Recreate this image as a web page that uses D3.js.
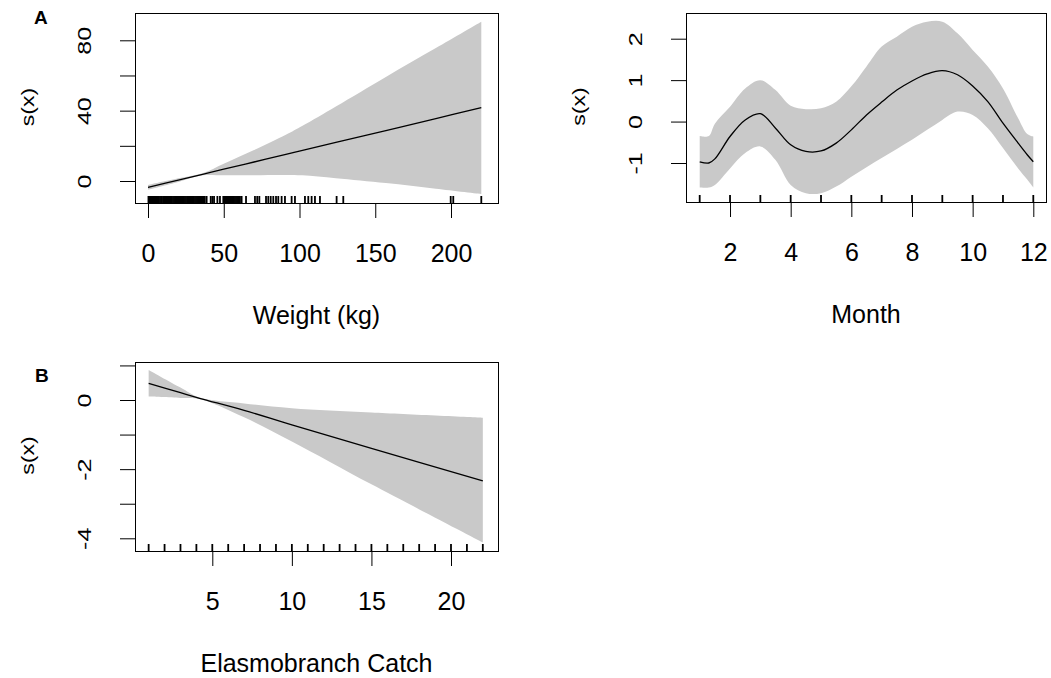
<!DOCTYPE html>
<html>
<head>
<meta charset="utf-8">
<script src="https://cdnjs.cloudflare.com/ajax/libs/d3/7.8.5/d3.min.js"></script>
<style>
  body { margin: 0; background: #fff; }
  svg { display: block; }
  text { font-family: "Liberation Sans", Arial, sans-serif; fill: #000; }
</style>
</head>
<body>
<svg id="gam_svg" width="1051" height="678"></svg>
<script>

// Weight (kg) smooth
var weightX     = [0, 20, 36, 50, 70, 91, 102, 124, 157, 190, 220];
var weightFit   = [-3.6, 0.5, 3.8, 6.7, 10.8, 15.1, 17.4, 21.9, 28.7, 35.5, 41.7];
var weightUpper = [-2.3, 1.5, 4.4, 9.8, 17.6, 26.3, 31.4, 42.4, 59.2, 75.6, 90.6];
var weightLower = [-4.9, -0.5, 3.2, 3.2, 3.3, 3.4, 3.2, 1.6, -1.2, -4.4, -7.4];
var weightRug = [0.3, 1, 1.6, 2.2, 3, 3.7, 4.4, 5, 5.8, 6.5, 7.1, 7.9, 8.6, 9.2, 10, 10.7,
  11.5, 12.2, 12.8, 13.6, 14.3, 15, 15.7, 16.5, 17.2, 17.9, 18.6, 19.3, 20, 20.8, 21.5,
  22.2, 23, 23.7, 24.4, 25.1, 25.9, 26.6, 27.3, 28, 28.8, 29.5, 30.2, 31, 31.7, 32.4,
  33.2, 33.9, 34.6, 35.3, 36, 36.8, 37.5, 38.7, 41.4, 42.5, 43.6, 45.8, 47.5,
  49.7, 50.4, 51.1, 51.8, 52.5, 53.2, 53.9, 54.6, 55.3, 56, 56.7, 57.4, 58.1, 58.8,
  59.5, 60.2, 60.7, 61.8, 64.7, 70.6, 72.1, 73.5, 77.9, 79.4, 81, 82.7, 84.5, 86,
  88.2, 90.4, 94.8, 97, 103.6, 105.8, 108, 110.2, 113.5, 124.5, 128.9, 199.8, 201.5, 220];
var weightXTicks = [0, 50, 100, 150, 200];
var weightYTicks = [0, 20, 40, 60, 80];
var weightYLabels = [0, 40, 80];

// Month smooth
var monthX     = [1, 1.3, 1.5, 2, 2.5, 3, 3.5, 4, 4.5, 5, 5.5, 6, 6.5, 7, 7.5, 8, 8.5, 9, 9.5, 10, 10.5, 11, 11.5, 11.8, 12];
var monthFit   = [-0.97, -1.0, -0.9, -0.36, 0.04, 0.19, -0.16, -0.56, -0.72, -0.71, -0.52, -0.2, 0.16, 0.47, 0.76, 0.98, 1.15, 1.23, 1.13, 0.86, 0.48, -0.04, -0.52, -0.8, -0.97];
var monthUpper = [-0.35, -0.35, -0.05, 0.36, 0.8, 1.0, 0.76, 0.38, 0.3, 0.32, 0.48, 0.85, 1.33, 1.81, 2.05, 2.29, 2.41, 2.41, 2.13, 1.73, 1.33, 0.8, 0.08, -0.3, -0.36];
var monthLower = [-1.59, -1.59, -1.53, -1.13, -0.76, -0.6, -0.93, -1.53, -1.73, -1.73, -1.57, -1.33, -1.1, -0.88, -0.66, -0.44, -0.2, 0.04, 0.24, 0.16, -0.16, -0.64, -1.13, -1.4, -1.59];
var monthRug = [1, 2, 3, 4, 5, 6, 7, 8, 9, 10, 11, 12];
var monthXTicks = [2, 4, 6, 8, 10, 12];
var monthYTicks = [-1, 0, 1, 2];

// Elasmobranch catch smooth
var elasX     = [1, 3, 4.2, 7, 10, 15, 22];
var elasFit   = [0.48, 0.21, 0.05, -0.3, -0.72, -1.4, -2.34];
var elasUpper = [0.87, 0.36, 0.07, -0.1, -0.24, -0.36, -0.51];
var elasLower = [0.1, 0.06, 0.03, -0.5, -1.2, -2.44, -4.12];
var elasRug = [1, 2, 3, 4, 5, 6, 7, 8, 9, 10, 11, 12, 13, 14, 15, 16, 17, 18, 19, 20, 21, 22];
var elasXTicks = [5, 10, 15, 20];
var elasYTicks = [1, 0, -1, -2, -3, -4];
var elasYLabels = [0, -2, -4];


var svg = d3.select("#gam_svg");
var FONT = 25;

function drawPanel(p){

  var g = svg.append("g");
  var x = p.x, y = p.y;

  var pts = p.xs.map(function(d, i){
    return { x: d, fit: p.fit[i], hi: p.upper[i], lo: p.lower[i] };
  });

  var band = d3.area()
    .x(function(d){ return x(d.x) })
    .y0(function(d){ return y(d.lo) })
    .y1(function(d){ return y(d.hi) })
    .curve(d3.curveCatmullRom);

  g.append("path").datum(pts)
    .attr("d", band)
    .style("fill", "#c9c9c9")
    .style("stroke", "none");

  var line = d3.line()
    .x(function(d){ return x(d.x) })
    .y(function(d){ return y(d.fit) })
    .curve(d3.curveCatmullRom);

  g.append("path").datum(pts)
    .attr("d", line)
    .style("fill", "none")
    .style("stroke", "#000")
    .style("stroke-width", 1.3);

  // rug
  g.append("g").selectAll("line").data(p.rug).enter().append("line")
    .attr("x1", function(d){ return x(d) })
    .attr("x2", function(d){ return x(d) })
    .attr("y1", p.box.bottom)
    .attr("y2", p.box.bottom - 7)
    .style("stroke", "#000")
    .style("stroke-width", 1.8);

  // x axis
  var xAxis = d3.axisBottom(x).tickValues(p.xTicks).tickSize(15).tickPadding(26)
    .tickFormat(function(d){ return String(d) });
  var gx = g.append("g")
    .attr("transform", "translate(0," + p.box.bottom + ")")
    .call(xAxis);
  gx.select(".domain").remove();
  gx.selectAll("line").style("stroke", "#000");
  gx.selectAll("text").attr("font-size", FONT).attr("font-family", null);

  // y axis, labels rotated as in base R
  var yAxis = d3.axisLeft(y).tickValues(p.yTicks).tickSize(15)
    .tickFormat(function(d){ return p.yLabels.indexOf(d) >= 0 ? String(d) : "" });
  var gy = g.append("g")
    .attr("transform", "translate(" + p.box.left + ",0)")
    .call(yAxis);
  gy.select(".domain").remove();
  gy.selectAll("line").style("stroke", "#000");
  gy.selectAll("text")
    .attr("x", null).attr("dy", null)
    .attr("text-anchor", "middle")
    .attr("font-size", FONT)
    .attr("font-family", null)
    .attr("transform", "translate(-44,0) scale(0.75,1) rotate(-90)");

  // box
  g.append("rect")
    .attr("x", p.box.left + 0.5)
    .attr("y", p.box.top + 0.5)
    .attr("width", p.box.right - p.box.left)
    .attr("height", p.box.bottom - p.box.top)
    .style("fill", "none")
    .style("stroke", "#000")
    .style("stroke-width", 1);

  var cx = (p.box.left + p.box.right) / 2;
  var cy = (p.box.top + p.box.bottom) / 2 - 1;

  g.append("text")
    .attr("x", cx)
    .attr("y", p.box.bottom + 121)
    .attr("text-anchor", "middle")
    .attr("font-size", FONT)
    .text(p.xLabel);

  g.append("text")
    .attr("text-anchor", "middle")
    .attr("font-size", 23)
    .attr("transform", "translate(" + (p.box.left - 101) + "," + cy + ") scale(0.78,1) rotate(-90)")
    .text("s(x)");

  if(p.tag){
    g.append("text")
      .attr("x", p.tagPos[0])
      .attr("y", p.tagPos[1])
      .attr("font-size", 19)
      .attr("font-weight", "bold")
      .text(p.tag);
  }
}

drawPanel({
  box: { left: 135, top: 13, right: 498, bottom: 203 },
  x: d3.scaleLinear().domain([0, 200]).range([148, 451]),
  y: d3.scaleLinear().domain([0, 80]).range([181, 40.3]),
  xs: weightX, fit: weightFit, upper: weightUpper, lower: weightLower,
  rug: weightRug, xTicks: weightXTicks, yTicks: weightYTicks, yLabels: weightYLabels,
  xLabel: "Weight (kg)", tag: "A", tagPos: [34, 24]
});

drawPanel({
  box: { left: 686, top: 13, right: 1046, bottom: 202 },
  x: d3.scaleLinear().domain([1, 12]).range([699.7, 1033.3]),
  y: d3.scaleLinear().domain([-1, 2]).range([163, 38.7]),
  xs: monthX, fit: monthFit, upper: monthUpper, lower: monthLower,
  rug: monthRug, xTicks: monthXTicks, yTicks: monthYTicks, yLabels: monthYTicks,
  xLabel: "Month"
});

drawPanel({
  box: { left: 135, top: 362, right: 498, bottom: 551 },
  x: d3.scaleLinear().domain([5, 20]).range([212.3, 451]),
  y: d3.scaleLinear().domain([0, -4]).range([400, 538.3]),
  xs: elasX, fit: elasFit, upper: elasUpper, lower: elasLower,
  rug: elasRug, xTicks: elasXTicks, yTicks: elasYTicks, yLabels: elasYLabels,
  xLabel: "Elasmobranch Catch", tag: "B", tagPos: [35, 382]
});

</script>
</body>
</html>
